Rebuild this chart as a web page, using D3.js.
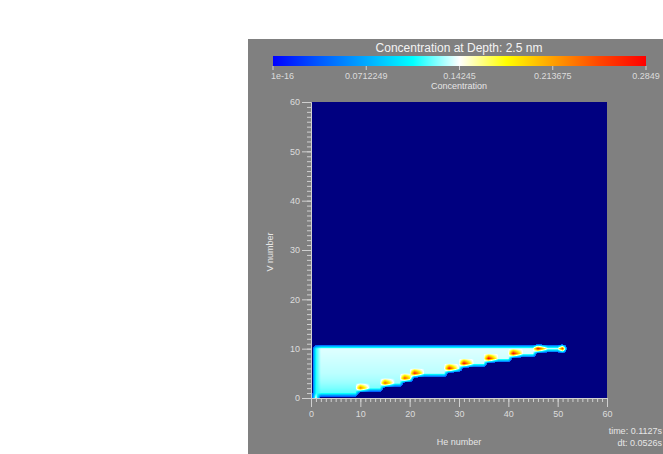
<!DOCTYPE html>
<html>
<head>
<meta charset="utf-8">
<script src="https://cdn.jsdelivr.net/npm/d3@7"></script>
<style>
body { margin: 0; background: #fff; }
text { font-family: "Liberation Sans", Arial, sans-serif; }
</style>
</head>
<body>
<div id="chart"></div>
<script>
// tick labels
var heTicks = [0, 10, 20, 30, 40, 50, 60];
var vTicks = [0, 10, 20, 30, 40, 50, 60];
var cbTicks = [1e-16, 0.0712249, 0.14245, 0.213675, 0.2849];
var cbLabels = ["1e-16", "0.0712249", "0.14245", "0.213675", "0.2849"];
var cMax = 0.2849;

// occupied rows of the (He, V) grid: He goes 1..rowHeMax
var vRows    = [1, 2, 3, 4, 5, 6, 7, 8, 9, 10];
var rowHeMax = [9, 14, 18, 20, 27, 30, 35, 40, 45, 51];
var rowLevel = [0.118, 0.124, 0.128, 0.131, 0.133, 0.134, 0.135, 0.136, 0.137, 0.138];
var leftLevel = 0.112;

// hot spots at the step corners, and the cell just right of each
var peakHe  = [1, 10, 15, 19, 21, 28, 31, 36, 41, 46, 51];
var peakV   = [0, 2, 3, 4, 5, 6, 7, 8, 9, 10, 10];
var peakVal = [0.15, 0.235, 0.245, 0.25, 0.27, 0.275, 0.278, 0.28, 0.282, 0.2849, 0.265];
var tailVal = [0, 0.18, 0.185, 0.19, 0.2, 0.2, 0.2, 0.205, 0.205, 0.21, 0];

var W = 663, H = 454;
var svg = d3.select("#chart").append("svg")
    .attr("width", W)
    .attr("height", H);

svg.append("rect")
    .attr("x", 248).attr("y", 39)
    .attr("width", 415).attr("height", 415)
    .attr("fill", "#808080");

var x = d3.scaleLinear().domain([0, 60]).range([311, 607]);
var y = d3.scaleLinear().domain([0, 60]).range([398, 102]);
var cb = d3.scaleLinear().domain([0, cMax]).range([273, 646]);

var stops = [0, 0.125, 0.25, 0.375, 0.5, 0.625, 0.75, 0.875, 1];
var stopColors = ["#0000ff", "#005aff", "#00aaff", "#00ffff", "#ffffff",
                  "#ffff00", "#ffa000", "#ff4600", "#ff0000"];
var color = d3.scaleLinear()
    .domain(stops.map(function(s) { return s * cMax; }))
    .range(stopColors)
    .clamp(true);

// grid values at vertices
var N = 61;
var grid = new Float32Array(N * N);
function setG(h, v, val) { if (h >= 0 && h < N && v >= 0 && v < N) grid[v * N + h] = val; }
function getG(h, v) { return (h >= 0 && h < N && v >= 0 && v < N) ? grid[v * N + h] : 0; }
vRows.forEach(function(v, i) {
    for (var h = 1; h <= rowHeMax[i]; h++) setG(h, v, h == 1 ? leftLevel : rowLevel[i]);
});
peakHe.forEach(function(h, i) {
    setG(h, peakV[i], peakVal[i]);
    if (tailVal[i] > 0) setG(h + 1, peakV[i], tailVal[i]);
});

// paint the field with bilinear shading
var pw = Math.round(x(60) - x(0)), ph = Math.round(y(0) - y(60));
var canvas = document.createElement("canvas");
canvas.width = pw; canvas.height = ph;
var ctx = canvas.getContext("2d");
var img = ctx.createImageData(pw, ph);
var navy = d3.rgb("#000080");
var cut = 0.035;
for (var j = 0; j < ph; j++) {
    for (var i = 0; i < pw; i++) {
        var he = x.invert(x(0) + i + 0.5), vv = y.invert(y(60) + j + 0.5);
        var h0 = Math.floor(he), v0 = Math.floor(vv);
        var fx = he - h0, fy = vv - v0;
        var val = getG(h0, v0) * (1 - fx) * (1 - fy) + getG(h0 + 1, v0) * fx * (1 - fy)
                + getG(h0, v0 + 1) * (1 - fx) * fy + getG(h0 + 1, v0 + 1) * fx * fy;
        var c = val < cut ? navy : d3.rgb(color(val));
        var k = (j * pw + i) * 4;
        img.data[k] = c.r; img.data[k + 1] = c.g; img.data[k + 2] = c.b; img.data[k + 3] = 255;
    }
}
ctx.putImageData(img, 0, 0);

var defs = svg.append("defs");
defs.append("filter").attr("id", "soft")
    .attr("x", 0).attr("y", 0).attr("width", 1).attr("height", 1)
  .append("feGaussianBlur")
    .attr("stdDeviation", 0.7)
    .attr("edgeMode", "duplicate");
svg.append("image")
    .attr("x", x(0)).attr("y", y(60))
    .attr("width", pw).attr("height", ph)
    .attr("filter", "url(#soft)")
    .attr("href", canvas.toDataURL());

// axes
function styleAxis(g) {
    g.selectAll("path").attr("stroke", "#d0d0d0");
    g.selectAll("line").attr("stroke", "#d0d0d0");
    g.selectAll("text").attr("fill", "#dcdcdc").style("font-size", "9px")
        .style("font-family", "'Liberation Sans', Arial, sans-serif");
}
svg.append("g").attr("transform", "translate(0," + y(0) + ")")
    .call(d3.axisBottom(x).tickValues(d3.range(0, 61)).tickSize(4).tickFormat(""))
    .call(styleAxis);
svg.append("g").attr("transform", "translate(0," + y(0) + ")")
    .call(d3.axisBottom(x).tickValues(heTicks).tickSize(9).tickSizeOuter(0).tickPadding(4))
    .call(styleAxis);
svg.append("g").attr("transform", "translate(" + x(0) + ",0)")
    .call(d3.axisLeft(y).tickValues(d3.range(0, 61)).tickSize(4).tickFormat(""))
    .call(styleAxis);
svg.append("g").attr("transform", "translate(" + x(0) + ",0)")
    .call(d3.axisLeft(y).tickValues(vTicks).tickSize(9).tickSizeOuter(0).tickPadding(2))
    .call(styleAxis);

svg.append("text")
    .attr("x", 459).attr("y", 445)
    .attr("text-anchor", "middle")
    .attr("fill", "#e6e6e6").style("font-size", "9px")
    .text("He number");
svg.append("text")
    .attr("transform", "translate(273,252) rotate(-90)")
    .attr("text-anchor", "middle")
    .attr("fill", "#e6e6e6").style("font-size", "9px")
    .text("V number");

// colorbar
var grad = defs.append("linearGradient").attr("id", "cbar");
stops.forEach(function(s, i) {
    grad.append("stop").attr("offset", s).attr("stop-color", stopColors[i]);
});
svg.append("rect")
    .attr("x", cb(0)).attr("y", 56)
    .attr("width", cb(cMax) - cb(0)).attr("height", 10)
    .attr("fill", "url(#cbar)");
svg.selectAll(".cbtick").data(cbTicks).enter().append("line")
    .attr("x1", function(d) { return cb(d); })
    .attr("x2", function(d) { return cb(d); })
    .attr("y1", 66).attr("y2", 70)
    .attr("stroke", "#d0d0d0");
svg.selectAll(".cblab").data(cbTicks).enter().append("text")
    .attr("x", function(d, i) { return i == 0 ? cb(d) - 2 : cb(d); })
    .attr("y", 79)
    .attr("text-anchor", function(d, i) { return i == 0 ? "start" : "middle"; })
    .attr("fill", "#dcdcdc").style("font-size", "9px")
    .text(function(d, i) { return cbLabels[i]; });
svg.append("text")
    .attr("x", 459).attr("y", 89)
    .attr("text-anchor", "middle")
    .attr("fill", "#e6e6e6").style("font-size", "9px")
    .text("Concentration");
svg.append("text")
    .attr("x", 459).attr("y", 52)
    .attr("text-anchor", "middle")
    .attr("fill", "#f4f4f4").style("font-size", "12px")
    .text("Concentration at Depth: 2.5 nm");

svg.append("text")
    .attr("x", 662).attr("y", 434)
    .attr("text-anchor", "end")
    .attr("fill", "#e6e6e6").style("font-size", "9px")
    .text("time: 0.1127s");
svg.append("text")
    .attr("x", 662).attr("y", 446)
    .attr("text-anchor", "end")
    .attr("fill", "#e6e6e6").style("font-size", "9px")
    .text("dt: 0.0526s");
</script>
</body>
</html>
